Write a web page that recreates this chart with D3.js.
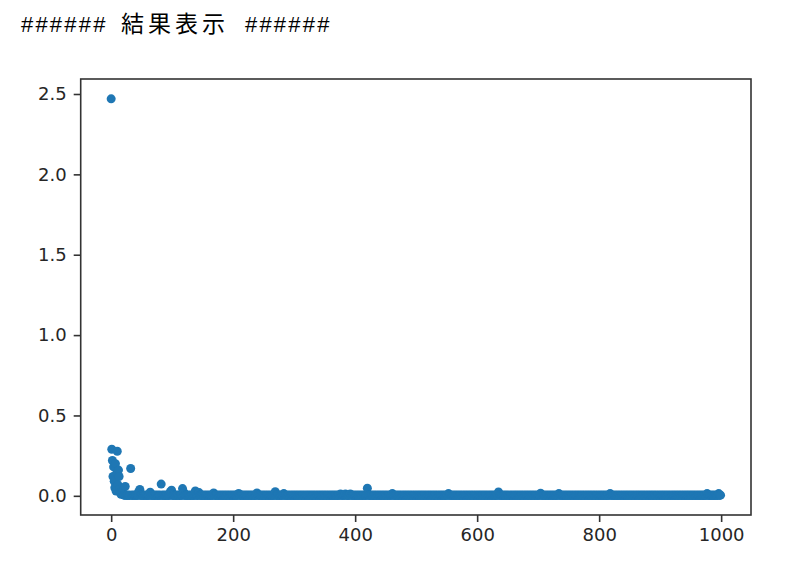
<!DOCTYPE html>
<html>
<head>
<meta charset="utf-8">
<script src="https://cdn.jsdelivr.net/npm/d3@7"></script>
<style>
  body { margin: 0; background: #fff; }
  svg { display: block; }
</style>
</head>
<body>
<div id="chart"></div>
<script>
// chart values
var titleMarks = "######";
var titleWord = "結果表示";
var pointCount = 1000;          // x is the sample index 0..999
var baseValue = 0.004;          // the flat band sitting on zero
// first samples (index 0..20), the big drop at the start
var headValues = [2.47, 0.29, 0.22, 0.12, 0.18, 0.09, 0.05, 0.20, 0.03, 0.14,
                  0.277, 0.07, 0.16, 0.12, 0.04, 0.02, 0.01, 0.03, 0.02, 0.015, 0.01];
// later samples that stand out above the band [index, value]
var bumps = [[23, 0.058], [32, 0.17], [45, 0.025], [47, 0.04], [64, 0.022], [82, 0.073],
             [97, 0.025], [99, 0.035], [117, 0.045], [119, 0.022], [138, 0.03], [144, 0.02],
             [168, 0.018], [209, 0.015], [239, 0.018], [269, 0.026], [283, 0.014],
             [376, 0.012], [384, 0.012], [392, 0.012], [420, 0.047], [461, 0.014],
             [553, 0.014], [635, 0.024], [704, 0.016], [734, 0.014], [818, 0.014],
             [977, 0.014], [996, 0.014]];
var xTicks = [0, 200, 400, 600, 800, 1000];
var yTicks = [0.0, 0.5, 1.0, 1.5, 2.0, 2.5];

// build the series
var lossValues = [];
for (var i = 0; i < pointCount; i++) {
  lossValues.push(i < headValues.length ? headValues[i] : baseValue);
}
bumps.forEach(function(b) { lossValues[b[0]] = b[1]; });
var points = lossValues.map(function(v, i) { return {x: i, y: v}; });

var svgWidth = 788;
var svgHeight = 572;
var margin = {top: 79, right: 37, bottom: 57, left: 80.7};
var chartWidth = svgWidth - margin.left - margin.right;
var chartHeight = svgHeight - margin.top - margin.bottom;

var svg = d3.select("#chart")
  .append("svg")
  .attr("width", svgWidth)
  .attr("height", svgHeight);

// title line: hash marks round a Japanese word
var titleText = svg.append("text")
  .attr("y", 32)
  .attr("fill", "#000");
titleText.append("tspan")
  .attr("x", 21)
  .attr("font-family", "'Liberation Sans', sans-serif")
  .attr("font-size", 22)
  .attr("letter-spacing", 2.2)
  .text(titleMarks);
titleText.append("tspan")
  .attr("x", 121)
  .attr("font-family", "'Noto Sans CJK JP', sans-serif")
  .attr("font-size", 23)
  .attr("letter-spacing", 4)
  .text(titleWord);
titleText.append("tspan")
  .attr("x", 245)
  .attr("font-family", "'Liberation Sans', sans-serif")
  .attr("font-size", 22)
  .attr("letter-spacing", 2.2)
  .text(titleMarks);

var chartGroup = svg.append("g")
  .attr("transform", `translate(${margin.left}, ${margin.top})`);

// matplotlib style 5% margins
var xExt = d3.extent(points, d => d.x);
var yExt = d3.extent(points, d => d.y);
var xPad = (xExt[1] - xExt[0]) * 0.05;
var yPad = (yExt[1] - yExt[0]) * 0.05;

var xLinearScale = d3.scaleLinear()
  .domain([xExt[0] - xPad, xExt[1] + xPad])
  .range([0, chartWidth]);

var yLinearScale = d3.scaleLinear()
  .domain([yExt[0] - yPad, yExt[1] + yPad])
  .range([chartHeight, 0]);

var bottomAxis = d3.axisBottom(xLinearScale)
  .tickValues(xTicks)
  .tickFormat(d3.format("d"))
  .tickSize(7)
  .tickPadding(6);

var leftAxis = d3.axisLeft(yLinearScale)
  .tickValues(yTicks)
  .tickFormat(d3.format(".1f"))
  .tickSize(7)
  .tickPadding(7);

// points
chartGroup.selectAll(".dot")
  .data(points)
  .enter().append("circle")
  .attr("class", "dot")
  .attr("r", 4.5)
  .attr("cx", d => xLinearScale(d.x))
  .attr("cy", d => yLinearScale(d.y))
  .style("fill", "#1f77b4");

var xAxisG = chartGroup.append("g")
  .attr("transform", `translate(0, ${chartHeight})`)
  .call(bottomAxis);

var yAxisG = chartGroup.append("g")
  .call(leftAxis);

[xAxisG, yAxisG].forEach(function(g) {
  g.select(".domain").remove();
  g.selectAll(".tick line").attr("stroke", "#333").attr("stroke-width", 1.6);
  g.selectAll(".tick text")
    .attr("fill", "#262626")
    .attr("font-family", "'DejaVu Sans', sans-serif")
    .attr("font-size", 18);
});

// frame
chartGroup.append("rect")
  .attr("x", 0)
  .attr("y", 0)
  .attr("width", chartWidth)
  .attr("height", chartHeight)
  .attr("fill", "none")
  .attr("stroke", "#333")
  .attr("stroke-width", 1.6);
</script>
</body>
</html>
